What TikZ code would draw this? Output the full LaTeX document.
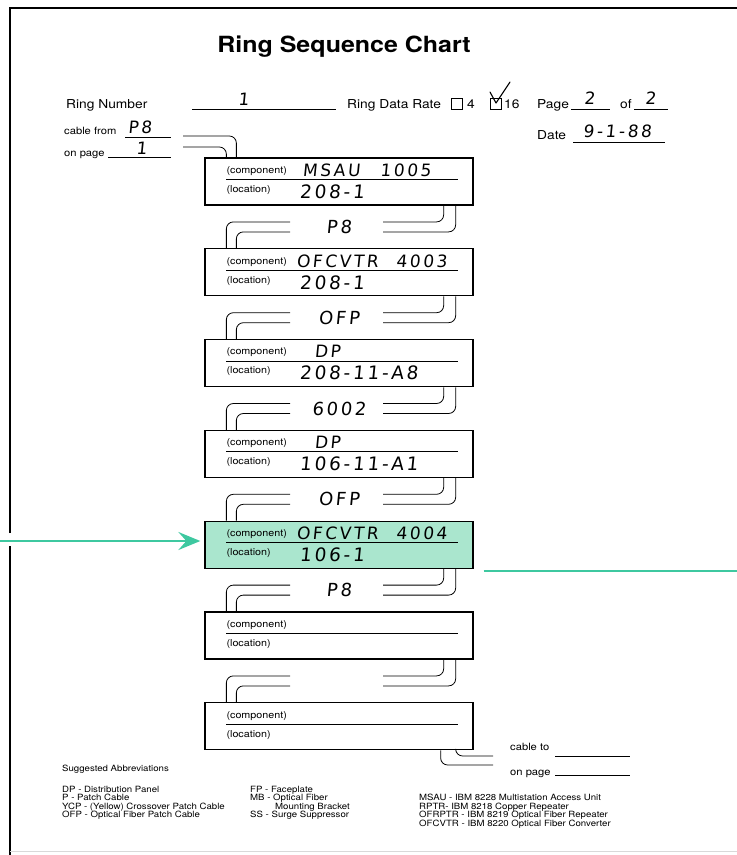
\documentclass[tikz,border=0pt]{standalone}
\usepackage{fontspec}
\setmainfont{TeX Gyre Heros}[FakeStretch=1.12]
\newfontfamily\handw{DejaVu Sans}[LetterSpace=15, FakeSlant=0.1]
\usepackage{tikz}
\usetikzlibrary{calc, positioning, arrows.meta}

\definecolor{mintfill}{RGB}{170,230,206}
\definecolor{mintline}{RGB}{62,200,160}

\begin{document}
\begin{tikzpicture}[x=1pt, y=-1pt, >=latex,
    box/.style={draw, line width=1.3pt, minimum width=268pt, minimum height=47pt, inner sep=0pt},
    cable/.style={line width=0.8pt, rounded corners=7pt},
    blank/.style={line width=0.7pt},
    chkbox/.style={draw, line width=0.7pt, minimum size=11pt, inner sep=0pt},
    form/.style={anchor=base west, inner sep=0pt, font=\fontsize{12.3}{13}\selectfont},
    small/.style={anchor=base west, inner sep=0pt, font=\fontsize{10}{11}\selectfont},
    field/.style={anchor=base west, inner sep=0pt, font=\fontsize{9.6}{10}\selectfont},
    abbr/.style={anchor=base west, inner sep=0pt, font=\fontsize{8.6}{9}\selectfont},
    hand/.style={anchor=base west, inner sep=0pt, font=\fontsize{17}{17}\handw},
    handc/.style={inner sep=0pt, font=\fontsize{18}{18}\handw}]
    \useasboundingbox (0,0) rectangle (737,855);

    % page frame
    \draw[line width=2.2pt] (10,855) -- (10,546);
    \draw[line width=2.2pt] (10,533) -- (10,8) -- (737,8);
    \draw[black!15, line width=0.6pt] (10,851) -- (737,851);

    % title
    \node[font=\fontsize{22.3}{23}\bfseries\selectfont] (title) at (344,47) {Ring Sequence Chart};

    % header fields
    \node[form] (ringno) at (66,108) {Ring Number};
    \draw[blank] (192,109) -- (336,109);
    \node[hand] (ringval) at (238,105) {1};
    \node[form] (rate) at (347,108) {Ring Data Rate};
    \node[chkbox] (cbfour) at (457,103.5) {};
    \node[form] (four) at (467,108) {4};
    \node[chkbox] (cbsixteen) at (496,103.5) {};
    \node[form] (sixteen) at (504,108) {16};
    \draw[line width=1.1pt, line cap=round, line join=round] (490,92) -- (496,103) -- (510,82);
    \node[form] (page) at (537,108) {Page};
    \draw[blank] (571,109) -- (610,109);
    \node[hand] (pageval) at (584,104) {2};
    \node[form] (of) at (620,108) {of};
    \draw[blank] (634,109) -- (668,109);
    \node[hand] (ofval) at (645,104) {2};

    \node[small] (cablefrom) at (64,134) {cable from};
    \node[hand] (fromval) at (128,133) {P8};
    \draw[blank] (125,137) -- (171,137);
    \node[small] (onpage) at (64,156) {on page};
    \draw[blank] (108,157) -- (171,157);
    \node[hand] (onpageval) at (136,154) {1};
    \node[form] (date) at (537,139) {Date};
    \draw[blank] (573,142) -- (665,142);
    \node[hand] (dateval) at (583,137) {9-1-88};

    % component boxes
    \foreach \i/\fillc in {1/white,2/white,3/white,4/white,5/mintfill,6/white,7/white}{
        \node[box, fill=\fillc] (b\i) at (339, {181.5+90.8*(\i-1)}) {};
        \draw[line width=0.8pt] ($(b\i.north west)+(22,22)$) -- ($(b\i.north east)+(-16,22)$);
        \node[field] (comp\i) at ($(b\i.north west)+(22,16)$) {(component)};
        \node[field] (loc\i) at ($(b\i.north west)+(22,35)$) {(location)};
    }
    \foreach \i/\comp/\loc/\cx in {1/{MSAU\hspace{20pt}1005}/208-1/98, 2/{OFCVTR\hspace{18pt}4003}/208-1/92,
        3/DP/208-11-A8/110, 4/DP/106-11-A1/110, 5/{OFCVTR\hspace{18pt}4004}/106-1/92}{
        \node[hand] (v\i) at ($(b\i.north west)+(\cx,19)$) {\comp};
        \node[hand, font=\fontsize{18.5}{19}\handw] (w\i) at ($(b\i.north west)+(95,41)$) {\loc};
    }

    % cables between boxes
    \coordinate (cfa) at (183,136);
    \coordinate (cfb) at (183,147);
    \draw[cable] (cfa) -| ($(b1.north west)+(32,0)$);
    \draw[cable] (cfb) -| ($(b1.north west)+(22,0)$);
    \foreach \i/\j/\cab in {1/2/P8, 2/3/OFP, 3/4/6002, 4/5/OFP, 5/6/P8, 6/7/{}}{
        \node[handc] (c\i) at ($(b\i.south)!0.5!(b\j.north)$) {\cab};
        \draw[cable] ($(b\i.south east)+(-30,0)$) |- ($(c\i.center)+(44,-5)$);
        \draw[cable] ($(b\i.south east)+(-18,0)$) |- ($(c\i.center)+(44,5)$);
        \draw[cable] ($(c\i.center)+(-49,-5)$) -| ($(b\j.north west)+(22,0)$);
        \draw[cable] ($(c\i.center)+(-49,5)$) -| ($(b\j.north west)+(32,0)$);
    }
    \coordinate (cta) at (493,765);
    \coordinate (ctb) at (493,756);
    \draw[cable] ($(b7.south east)+(-33,0)$) |- (cta);
    \draw[cable] ($(b7.south east)+(-18,0)$) |- (ctb);
    \node[small] (cableto) at (510,750) {cable to};
    \draw[blank] (555,756) -- (630,756);
    \node[small] (topage) at (510,775) {on page};
    \draw[blank] (555,775) -- (630,775);

    % green marker
    \coordinate (garrow) at (0,541);
    \draw[mintline, line width=2.4pt, -{Stealth[length=22pt, width=18pt, inset=8pt]}, shorten >=4pt]
        (garrow) -- (garrow -| b5.west);
    \coordinate (gstart) at ($(b5.south east)+(10,2)$);
    \coordinate (gend) at ($(gstart)+(254,0)$);
    \draw[mintline, line width=2.6pt] (gstart) -- (gend);

    % abbreviations
    \node[abbr] (abbrtitle) at (62,771) {Suggested Abbreviations};
    \foreach \t [count=\k] in {DP - Distribution Panel, P - Patch Cable,
        YCP - (Yellow) Crossover Patch Cable, OFP - Optical Fiber Patch Cable}{
        \node[abbr] (abl\k) at (62, {783.4+8.6*\k}) {\t};
    }
    \foreach \t [count=\k] in {FP - Faceplate, MB - Optical Fiber, \hspace{25pt}Mounting Bracket,
        SS - Surge Suppressor}{
        \node[abbr] (abm\k) at (250, {783.4+8.6*\k}) {\t};
    }
    \foreach \t [count=\k from 2] in {MSAU - IBM 8228 Multistation Access Unit, RPTR- IBM 8218 Copper Repeater,
        OFRPTR - IBM 8219 Optical Fiber Repeater, OFCVTR - IBM 8220 Optical Fiber Converter}{
        \node[abbr] (abr\k) at (419, {783.4+8.6*\k}) {\t};
    }
\end{tikzpicture}
\end{document}
